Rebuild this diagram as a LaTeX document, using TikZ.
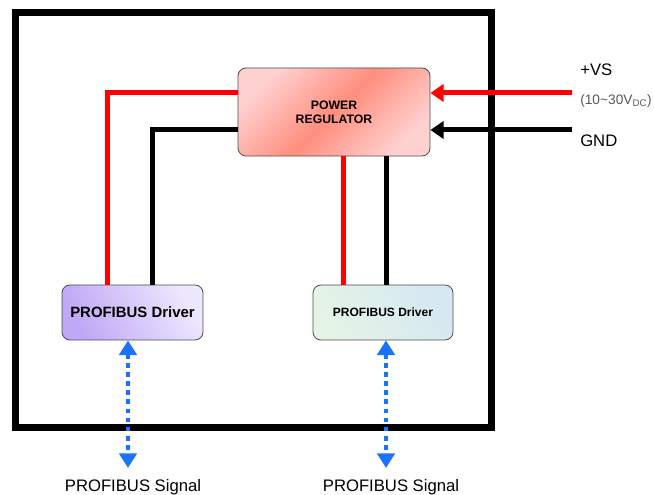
\documentclass[tikz,border=0pt]{standalone}
\usepackage{fontspec}
\setmainfont{Liberation Sans}
\usetikzlibrary{arrows.meta}
\definecolor{regpink}{HTML}{FFD0D0}
\definecolor{regsalmon}{HTML}{FF8E7E}
\definecolor{drvpurple}{HTML}{BFA8F5}
\definecolor{drvlilac}{HTML}{EEE8FF}
\definecolor{drvmint}{HTML}{E4F4E6}
\definecolor{drvsky}{HTML}{D6E8F2}
\definecolor{sigblue}{HTML}{1A72FF}
\begin{document}
\begin{tikzpicture}[x=0.75pt,y=-0.75pt]
    \tikzstyle{box}=[draw=black!70,line width=0.6pt,rounded corners=6pt,inner sep=0pt,font=\bfseries];
    \tikzstyle{redwire}=[draw=red,line width=3.75pt];
    \tikzstyle{blackwire}=[draw=black,line width=3.75pt];
    \tikzstyle{tip}=[-{Triangle[length=10pt,width=13pt]}];
    \tikzstyle{sig}=[draw=sigblue,line width=3.6pt,dash pattern=on 3.6pt off 3.2pt,
        {Triangle[length=11pt,width=13pt]}-{Triangle[length=11pt,width=13pt]}];
    \tikzstyle{lbl}=[inner sep=0pt,font=\fontsize{12.5}{14}\selectfont];
    \useasboundingbox (0,0) rectangle (654,495);

    % housing
    \draw[line width=5.25pt] (15,13) rectangle (491,428);

    \node at (334,112) (reg) [box,minimum width=144pt,minimum height=66pt,
        left color=regpink,right color=regpink,middle color=regsalmon,shading angle=45,
        align=center,font=\bfseries\fontsize{9.2}{10.5}\selectfont] {POWER\\REGULATOR};
    \node at (132.5,312.5) (drv1) [box,minimum width=105.75pt,minimum height=41.25pt,
        left color=drvpurple,right color=drvlilac,shading angle=120,
        font=\bfseries\fontsize{11.2}{13}\selectfont] {PROFIBUS Driver};
    \node at (383,312.5) (drv2) [box,minimum width=105pt,minimum height=41.25pt,
        left color=drvmint,right color=drvsky,shading angle=120,
        font=\bfseries\fontsize{9}{11}\selectfont] {PROFIBUS Driver};

    \coordinate (vsin) at (572,93);
    \coordinate (gndin) at (572,130);
    \coordinate (sig1) at (128,468);
    \coordinate (sig2) at (386,468);

    \node at (580,70) (vs) [lbl,anchor=west] {+VS};
    \node at (580,101) (range) [lbl,anchor=west,text=black!65,font=\fontsize{10.3}{12}\selectfont] {(10\textasciitilde30V\textsubscript{DC})};
    \node at (580,141) (gnd) [lbl,anchor=west] {GND};
    \node at (133,487) (sl1) [lbl] {PROFIBUS Signal};
    \node at (391,487) (sl2) [lbl] {PROFIBUS Signal};

    \draw[redwire,tip] (vsin) -- (reg.east |- vsin);
    \draw[blackwire,tip] (gndin) -- (reg.east |- gndin);
    \draw[redwire] (reg.west |- vsin) -| (drv1.north -| 107,0);
    \draw[blackwire] (reg.west |- gndin) -| (drv1.north -| 152,0);
    \draw[redwire] (reg.south -| 343,0) -- (drv2.north -| 343,0);
    \draw[blackwire] (reg.south -| 386,0) -- (drv2.north -| 386,0);

    \draw[sig] (drv1.south -| sig1) -- (sig1);
    \draw[sig] (drv2.south -| sig2) -- (sig2);
\end{tikzpicture}
\end{document}
